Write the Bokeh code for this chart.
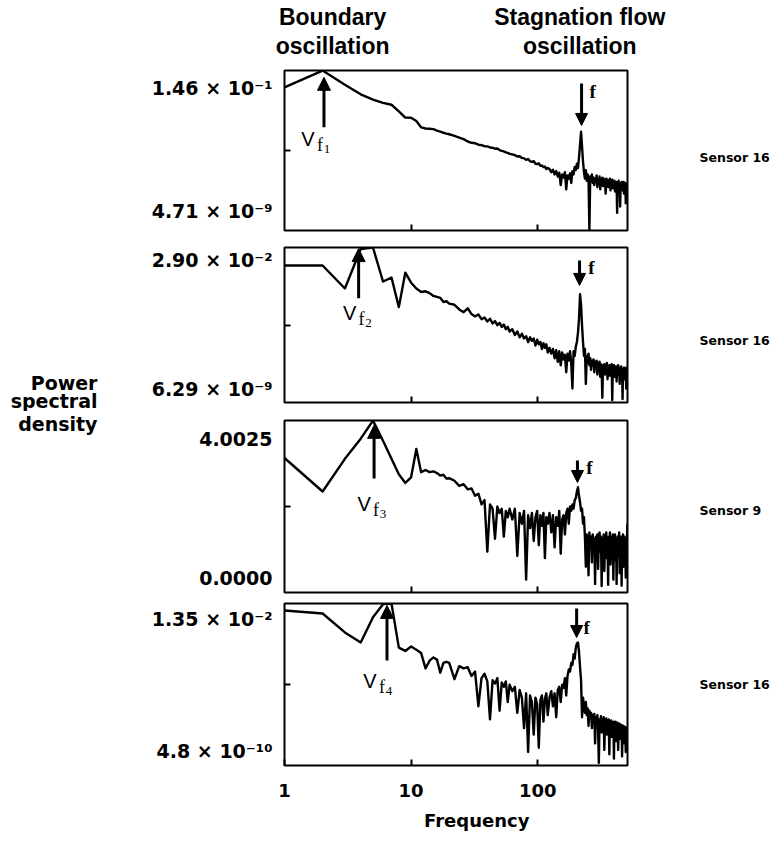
import math
from bokeh.plotting import figure
from bokeh.models import (Range1d, FixedTicker, Label, Arrow, NormalHead,
                          LogAxis, LinearAxis)
from bokeh.layouts import column
from bokeh.embed import file_html
from bokeh.resources import INLINE

# ---------------- data ----------------
# FFT frequency bins (Hz) that were read off the picture
freq = (list(range(1, 21)) + list(range(22, 61, 2)) +
        list(range(63, 121, 3)) + list(range(124, 513, 4)))

# panel 1 (Sensor 16): log10 of power spectral density
psd1_log10 = [
    -1.63, -0.84, -1.50, -1.95, -2.20, -2.35, -2.44, -2.75, -3.04, -3.05,
    -3.20, -3.50, -3.55, -3.56, -3.58, -3.65, -3.70, -3.75, -3.79, -3.82,
    -3.90, -3.98, -4.05, -4.16, -4.22, -4.24, -4.31, -4.33, -4.38, -4.39,
    -4.44, -4.45, -4.50, -4.49, -4.56, -4.60, -4.62, -4.67, -4.69, -4.74,
    -4.76, -4.80, -4.86, -4.85, -4.93, -4.95, -5.02, -4.98, -5.08, -5.12,
    -5.08, -5.20, -5.22, -5.18, -5.30, -5.28, -5.36, -5.33, -5.45, -5.40,
    -5.45, -5.60, -5.48, -5.70, -5.55, -5.80, -5.62, -6.20, -5.70, -5.85,
    -5.60, -6.40, -5.75, -5.90, -5.65, -6.10, -5.55, -5.70, -5.35, -5.50,
    -5.20, -5.40, -4.90, -4.30, -3.70, -4.40, -5.10, -5.60, -5.90, -5.50,
    -6.00, -5.70, -5.90, -8.32, -5.80, -5.95, -5.70, -6.10, -5.85, -6.20,
    -5.90, -6.00, -5.75, -6.30, -5.95, -6.10, -5.80, -6.40, -5.95, -6.05,
    -5.85, -6.25, -5.90, -6.10, -6.00, -6.60, -5.90, -6.15, -5.95, -6.30,
    -6.00, -6.20, -5.90, -6.45, -6.05, -6.20, -5.95, -6.35, -6.05, -6.25,
    -6.00, -6.50, -6.10, -6.30, -6.05, -7.50, -6.10, -6.35, -6.00, -6.40,
    -6.15, -7.20, -6.10, -6.30, -6.05, -6.45, -6.15, -6.30, -6.05, -6.60,
    -6.20, -6.35, -6.10, -7.05, -6.20, -6.40, -6.15, -6.30,
]

# panel 2 (Sensor 16): log10 of power spectral density
psd2_log10 = [
    -2.31, -2.31, -3.30, -1.60, -1.54, -3.00, -2.83, -4.10, -2.62, -3.05,
    -3.30, -3.45, -3.42, -3.50, -3.62, -3.66, -3.70, -3.88, -3.85, -3.95,
    -4.00, -4.20, -4.32, -4.15, -4.40, -4.50, -4.42, -4.62, -4.55, -4.72,
    -4.60, -4.80, -4.70, -4.88, -4.78, -4.95, -4.85, -5.05, -4.95, -5.15,
    -5.05, -5.30, -5.15, -5.40, -5.25, -5.45, -5.35, -5.60, -5.40, -5.55,
    -5.45, -5.75, -5.50, -5.70, -5.60, -5.90, -5.65, -5.85, -5.70, -6.05,
    -5.85, -6.10, -5.90, -6.30, -5.95, -6.45, -6.00, -6.60, -6.05, -6.35,
    -6.15, -6.90, -6.10, -6.40, -6.00, -6.50, -7.60, -6.00, -6.20, -5.80,
    -5.60, -5.20, -4.60, -3.55, -4.00, -4.90, -5.60, -6.20, -5.90, -7.40,
    -6.20, -6.50, -6.10, -6.60, -6.30, -6.80, -6.40, -6.60, -6.35, -6.90,
    -6.45, -6.70, -6.40, -7.00, -6.50, -6.75, -6.45, -7.10, -6.55, -6.80,
    -8.00, -6.60, -6.85, -6.55, -7.00, -6.60, -6.90, -6.50, -7.20, -6.70,
    -6.85, -6.60, -7.05, -6.65, -6.90, -6.55, -8.10, -6.70, -6.95, -6.60,
    -7.10, -6.75, -6.90, -6.65, -7.30, -6.70, -6.95, -6.60, -7.00, -6.75,
    -7.40, -6.70, -6.95, -6.65, -7.10, -6.80, -8.05, -6.75, -7.00, -6.70,
    -7.20, -6.80, -6.95, -6.70, -7.60, -6.85, -7.00, -6.75,
]

# panel 3 (Sensor 9): power spectral density, linear axis
psd3 = [
    3.13, 2.35, 3.11, 3.58, 4.00, 3.53, 3.11, 2.75, 2.55, 2.68,
    3.34, 2.80, 2.85, 2.80, 2.82, 2.78, 2.72, 2.74, 2.65, 2.66,
    2.60, 2.48, 2.52, 2.40, 2.42, 2.25, 2.30, 2.05, 2.15, 0.95,
    2.05, 1.95, 1.25, 2.00, 1.85, 1.95, 1.30, 1.90, 1.75, 1.95,
    1.70, 1.95, 0.85, 1.85, 1.60, 1.90, 0.30, 1.80, 1.50, 1.85,
    1.20, 1.75, 1.90, 1.10, 1.80, 1.55, 1.85, 0.80, 1.75, 1.60,
    1.85, 1.40, 1.80, 1.05, 1.75, 1.55, 1.90, 0.90, 1.70, 1.80,
    1.35, 1.85, 1.95, 1.60, 2.00, 1.90, 2.05, 1.95, 2.15, 2.20,
    2.35, 2.45, 2.25, 2.10, 1.90, 1.95, 1.60, 1.75, 1.30, 0.60,
    1.35, 1.20, 0.40, 1.40, 1.10, 1.30, 0.70, 1.35, 1.05, 1.25,
    0.20, 1.30, 1.00, 1.35, 0.55, 1.20, 1.40, 0.95, 1.30, 0.15,
    1.25, 1.10, 1.35, 0.50, 1.20, 1.00, 1.40, 0.80, 1.25, 0.18,
    1.30, 1.05, 1.40, 0.65, 1.15, 1.30, 0.95, 1.35, 0.30, 1.20,
    1.05, 1.35, 0.75, 1.25, 0.20, 1.10, 1.30, 0.85, 1.20, 1.40,
    0.45, 1.25, 1.05, 1.30, 0.16, 1.20, 1.00, 1.35, 0.60, 1.15,
    1.30, 0.90, 1.25, 0.35, 1.20, 1.05, 1.35, 1.60,
]

# panel 4 (Sensor 16): log10 of power spectral density
psd4_log10 = [
    -2.19, -2.33, -3.20, -3.66, -2.50, -1.90, -1.87, -3.90, -4.05, -3.85,
    -4.00, -4.15, -4.85, -4.50, -4.35, -4.45, -5.05, -4.60, -4.55, -4.60,
    -5.35, -4.75, -4.85, -4.80, -5.20, -5.00, -6.60, -5.30, -5.10, -5.45,
    -7.20, -5.40, -5.55, -5.30, -6.80, -5.50, -5.70, -5.45, -6.40, -5.60,
    -5.90, -5.70, -6.90, -5.85, -6.20, -7.60, -6.00, -8.70, -6.10, -6.40,
    -7.90, -6.20, -6.50, -8.50, -6.30, -6.10, -7.30, -6.25, -6.00, -7.00,
    -6.20, -5.90, -6.60, -6.00, -7.10, -5.85, -5.70, -6.40, -5.60, -5.75,
    -5.30, -6.10, -5.20, -4.90, -5.00, -4.60, -4.70, -4.20, -4.40, -3.90,
    -3.70, -3.66, -4.10, -4.80, -5.40, -7.10, -6.20, -6.60, -6.90, -6.40,
    -7.00, -6.70, -7.50, -6.80, -7.10, -6.90, -7.60, -7.00, -7.30, -6.95,
    -8.30, -7.10, -7.40, -7.00, -7.70, -9.20, -7.20, -7.50, -7.05, -7.80,
    -7.20, -7.45, -7.10, -8.60, -7.25, -7.50, -7.15, -7.90, -7.30, -7.55,
    -7.20, -8.80, -7.30, -7.60, -7.25, -8.00, -7.35, -7.60, -7.30, -9.00,
    -7.40, -7.65, -7.30, -8.20, -7.45, -7.70, -7.35, -8.60, -7.50, -7.75,
    -7.40, -8.10, -7.50, -7.80, -7.45, -8.90, -7.55, -7.80, -7.50, -8.30,
    -7.60, -7.85, -7.55, -8.70, -7.65, -7.90, -7.60, -8.20,
]

sensors = ["Sensor 16", "Sensor 16", "Sensor 9", "Sensor 16"]
y_min = [4.71e-9, 6.29e-9, 0.0, 4.8e-10]
y_max = [1.46e-1, 2.90e-2, 4.0025, 1.35e-2]
y_mid = [2.62e-5, 1.35e-5, 2.00125, 2.55e-6]
y_min_text = ["4.71 × 10⁻⁹", "6.29 × 10⁻⁹", "0.0000", "4.8 × 10⁻¹⁰"]
y_max_text = ["1.46 × 10⁻¹", "2.90 × 10⁻²", "4.0025", "1.35 × 10⁻²"]
x_ticks = [1, 10, 100]
x_tick_text = ["1", "10", "100"]
headings_x = [2.4, 215]
headings_top = ["Boundary", "Stagnation flow"]
headings_bottom = ["oscillation", "oscillation"]

# boundary-oscillation arrows (V_f) and stagnation-flow arrows (f)
vf_x = [2.05, 3.85, 5.1, 6.45]
vf_y_start = [3.2e-4, 1.9e-4, 2.65, 3.2e-5]
vf_y_end = [7.0e-2, 2.6e-2, 3.89, 1.1e-2]
vf_sub = ["1", "2", "3", "4"]
f_x = [222, 214, 206, 203]
f_y_start = [3.6e-2, 8.0e-3, 3.07, 7.9e-3]
f_y_end = [3.9e-4, 6.8e-4, 2.56, 3.7e-4]

series = [
    [10 ** v for v in psd1_log10],
    [10 ** v for v in psd2_log10],
    psd3,
    [10 ** v for v in psd4_log10],
]

# ---------------- layout / style ----------------
cfg = [
    dict(height=238, top=70, bottom=8, log=True, fh=160),
    dict(height=173, top=9, bottom=9, log=True, fh=155),
    dict(height=185, top=9, bottom=4, log=False, fh=172),
    dict(height=255, top=7, bottom=86, log=True, fh=162),
]
# vertical placement (pixels from the top of each frame) of the side texts
top_lab_px = [17, 12, 18, 15]
bot_lab_px = [140, 141, 157, 147]
sensor_px = [87, 93, 90, 81]
v_dx = [-16, -9, -10, -17]
v_dy = [-12, -15, -25, -20]
fl_dx = [11, 12, 12, 10]
fl_dy = [-8, -7, -7, -19]

HEAVY = "DejaVu Sans"
SANS = "Liberation Sans"
SERIF = "Liberation Serif"


def y_at(i, px):
    """data value located px pixels below the top of panel i's frame"""
    frac = px / cfg[i]["fh"]
    if cfg[i]["log"]:
        a, b = math.log10(y_max[i]), math.log10(y_min[i])
        v = 10 ** (a + (b - a) * frac)
    else:
        v = y_max[i] + (y_min[i] - y_max[i]) * frac
    return float(f"{v:.10g}")


def txt(p, x, y, text, size, font=HEAVY, style="bold", xo=0, yo=0):
    p.add_layout(Label(x=x, y=y, text=text, x_offset=xo, y_offset=yo,
                       text_font=font, text_font_size=f"{size}px",
                       text_font_style=style, text_align="center",
                       text_baseline="middle", text_color="black"))


def text_axis(p, side, log, ticks, labels, standoff, font, size):
    cls = LogAxis if log else LinearAxis
    ax = cls(ticker=FixedTicker(ticks=ticks),
             major_label_overrides=dict(zip(ticks, labels)),
             major_label_standoff=standoff,
             major_tick_line_color=None, major_tick_in=0, major_tick_out=0,
             minor_tick_line_color=None, minor_tick_in=0, minor_tick_out=0,
             axis_line_color=None,
             major_label_text_font=font, major_label_text_font_size=f"{size}px",
             major_label_text_font_style="bold", major_label_text_color="black")
    p.add_layout(ax, side)
    return ax


figs = []
for i in range(4):
    c = cfg[i]
    p = figure(width=772, height=c["height"], x_axis_type="log",
               y_axis_type="log" if c["log"] else "linear",
               x_range=Range1d(1, 512), y_range=Range1d(y_min[i], y_max[i]),
               output_backend="svg", toolbar_location=None,
               min_border_left=284, min_border_right=144,
               min_border_top=c["top"], min_border_bottom=c["bottom"])
    p.xgrid.visible = False
    p.ygrid.visible = False
    p.outline_line_color = "black"
    p.outline_line_width = 2
    p.outline_line_alpha = 1.0
    p.background_fill_color = "white"
    p.border_fill_color = "white"

    # x axis: inward ticks at 10, 100
    xa = p.xaxis[0]
    xa.axis_line_color = None
    xa.minor_tick_line_color = None
    xa.major_tick_in = 6
    xa.major_tick_out = 0
    xa.major_tick_line_width = 2
    xa.major_tick_line_color = "black"
    if i == 3:
        xa.ticker = FixedTicker(ticks=x_ticks)
        xa.major_label_overrides = {t: s for t, s in zip(x_ticks, x_tick_text)}
        xa.major_label_text_font = HEAVY
        xa.major_label_text_font_style = "bold"
        xa.major_label_text_font_size = "18px"
        xa.major_label_text_color = "black"
        xa.major_label_standoff = 18
    else:
        xa.ticker = FixedTicker(ticks=x_ticks[1:])
        xa.major_label_text_font_size = "1px"
        xa.major_label_text_alpha = 0
        xa.major_label_standoff = 0

    # y axis: one inward tick at the middle
    ya = p.yaxis[0]
    ya.axis_line_color = None
    ya.minor_tick_line_color = None
    ya.ticker = FixedTicker(ticks=[y_mid[i]])
    ya.major_tick_in = 6
    ya.major_tick_out = 0
    ya.major_tick_line_width = 2
    ya.major_tick_line_color = "black"
    ya.major_label_text_font_size = "1px"
    ya.major_label_text_alpha = 0
    ya.major_label_standoff = 0

    # value labels at the top and bottom of the y scale
    text_axis(p, "left", c["log"], [y_at(i, top_lab_px[i]), y_at(i, bot_lab_px[i])],
              [y_max_text[i], y_min_text[i]], 12, HEAVY, 19)

    # sensor name on the right
    text_axis(p, "right", c["log"], [y_at(i, sensor_px[i])], [sensors[i]], 72, HEAVY, 12.5)

    # spectrum
    p.line(freq, series[i], line_width=2.4, line_color="black", line_join="round")

    # V_f arrow (pointing up) and its label
    p.add_layout(Arrow(end=NormalHead(size=13, fill_color="black", line_color="black", line_width=1),
                       x_start=vf_x[i], y_start=vf_y_start[i], x_end=vf_x[i], y_end=vf_y_end[i],
                       line_width=3, line_color="black"))
    txt(p, vf_x[i], vf_y_start[i], "V", 20, font=SANS, style="normal", xo=v_dx[i], yo=v_dy[i])
    txt(p, vf_x[i], vf_y_start[i], "f", 18, font=SERIF, style="normal", xo=v_dx[i] + 12, yo=v_dy[i] - 6)
    txt(p, vf_x[i], vf_y_start[i], vf_sub[i], 13, font=SERIF, style="normal", xo=v_dx[i] + 19, yo=v_dy[i] - 10)

    # f arrow (pointing down) and its label
    p.add_layout(Arrow(end=NormalHead(size=12, fill_color="black", line_color="black", line_width=1),
                       x_start=f_x[i], y_start=f_y_start[i], x_end=f_x[i], y_end=f_y_end[i],
                       line_width=3, line_color="black"))
    txt(p, f_x[i], f_y_start[i], "f", 19, font=SERIF, style="bold", xo=fl_dx[i], yo=fl_dy[i])

    figs.append(p)

# column headings above the first panel (two stacked "above" axes)
text_axis(figs[0], "above", True, headings_x, headings_bottom, 12, SANS, 23)
text_axis(figs[0], "above", True, headings_x, headings_top, 0, SANS, 23)

# y-axis title, split over the two panels it straddles
text_axis(figs[1], "left", True, [y_at(1, 135), y_at(1, 154)], ["Power", "spectral"], 51, HEAVY, 19)
text_axis(figs[2], "left", False, [y_at(2, 1)], ["density"], 99, HEAVY, 19)

# x-axis title
text_axis(figs[3], "below", True, [33], ["Frequency"], 10, HEAVY, 18)

layout = column(*figs, spacing=0)
open("out.html", "w").write(file_html(layout, INLINE))
